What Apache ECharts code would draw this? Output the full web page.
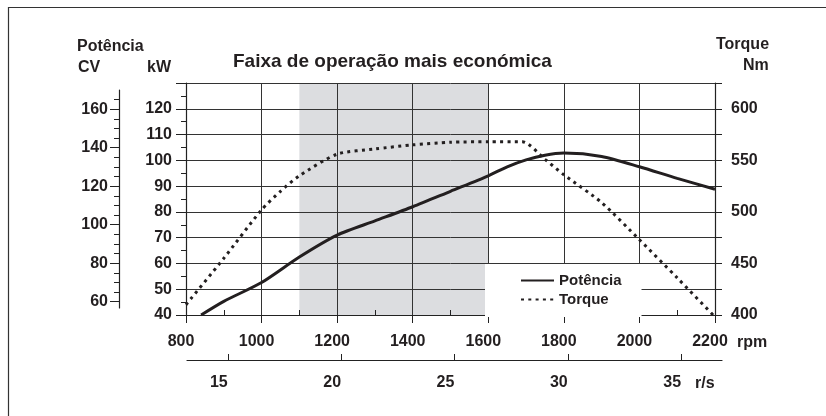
<!DOCTYPE html>
<html><head><meta charset="utf-8">
<script src="https://cdn.jsdelivr.net/npm/echarts@6/dist/echarts.min.js"></script>
<style>html,body{margin:0;padding:0;background:#fff}#c{width:826px;height:416px}</style>
</head><body><div id="c"></div>
<script>
// ---- data ----
const powerRpm = [840, 900, 1000, 1100, 1200, 1300, 1400, 1500, 1600, 1650, 1700, 1750, 1800, 1900, 2000, 2100, 2200];
const powerKW  = [40, 45.3, 52.6, 62.5, 71, 76.5, 82, 88, 94, 97.5, 100.2, 102, 102.8, 101.5, 97.5, 93, 88.8];
const torqueRpm = [800, 900, 1000, 1050, 1100, 1200, 1300, 1400, 1500, 1600, 1690, 1750, 1800, 1900, 2000, 2100, 2195];
const torqueNm  = [410, 455, 502, 520, 535, 556, 561, 565, 567.5, 568, 568, 551, 536, 509, 473, 436, 400];
const economyBand = [1100, 1600];
const rpsTicks = [15, 20, 25, 30, 35];
const rpmMinorTicks = [900, 1100, 1300, 1500, 1700, 1900, 2100];
const cvTicks = [60, 80, 100, 120, 140, 160];
const cvMinorTicks = [60, 65, 70, 75, 80, 85, 90, 95, 100, 105, 110, 115, 120, 125, 130, 135, 140, 145, 150, 155, 160, 165];
const nmLabelTicks = [400, 450, 500, 550, 600];
const seriesNames = ['Potência', 'Torque'];

const INK = '#231f20';
const FONT = "'Liberation Sans', Arial, sans-serif";
const lbl = (extra) => Object.assign({color: INK, fontFamily: FONT, fontWeight: 'bold', fontSize: 16}, extra || {});

const chart = echarts.init(document.getElementById('c'), null, {renderer: 'canvas'});
const zip = (a, b) => a.map((v, i) => [v, b[i]]);

const option = {
  animation: false,
  backgroundColor: '#fff',
  title: [
    {text: 'Faixa de operação mais económica', left: 233, top: 52, padding: 0, textStyle: lbl({fontSize: 19})},
    {text: 'Potência', left: 77, top: 39, padding: 0, textStyle: lbl()},
    {text: 'CV', left: 78, top: 60, padding: 0, textStyle: lbl()},
    {text: 'kW', left: 147, top: 60, padding: 0, textStyle: lbl()},
    {text: 'Torque', left: 716, top: 37, padding: 0, textStyle: lbl()},
    {text: 'Nm', left: 743, top: 58, padding: 0, textStyle: lbl()},
    {text: 'rpm', left: 737, top: 335, padding: 0, textStyle: lbl()},
    {text: 'r/s', left: 695, top: 376, padding: 0, textStyle: lbl()}
  ],
  graphic: [
    {type: 'rect', shape: {x: 8.5, y: 7.5, width: 900, height: 500}, style: {fill: null, stroke: '#333', lineWidth: 1.2}, silent: true}
  ],
  legend: {
    data: seriesNames,
    orient: 'vertical',
    left: 485, top: 264,
    padding: [9, 20, 10, 35],
    backgroundColor: '#fff',
    itemWidth: 33, itemHeight: 14, itemGap: 4,
    itemStyle: {color: 'rgba(0,0,0,0)', borderWidth: 0, opacity: 0},
    textStyle: lbl({fontSize: 15})
  },
  grid: [
    {left: 186, top: 83, width: 529, height: 232},
    {left: 119, top: 90, width: 1, height: 218},
    {left: 187, top: 340, width: 535, height: 20}
  ],
  xAxis: [
    {
      type: 'value', gridIndex: 0, min: 800, max: 2200, interval: 200, position: 'bottom', offset: 0,
      axisLine: {show: true, lineStyle: {color: '#222', width: 1.2}},
      axisTick: {show: true, inside: false, length: 8, lineStyle: {color: '#222'}},
      axisLabel: Object.assign(lbl(), {margin: 19, padding: [0, 10, 0, 0], formatter: v => String(v)}),
      splitLine: {show: true, lineStyle: {color: '#333', width: 1}}
    },
    {
      type: 'value', gridIndex: 0, min: 800, max: 2200, position: 'bottom', offset: 0,
      axisLine: {show: false},
      axisTick: {show: true, inside: true, length: 5, customValues: rpmMinorTicks, lineStyle: {color: '#222'}},
      axisLabel: {show: false},
      splitLine: {show: false}
    },
    {type: 'value', gridIndex: 1, min: 0, max: 1, show: false},
    {
      type: 'value', gridIndex: 2, min: 13.2, max: 36.8, position: 'bottom',
      axisLine: {show: true, lineStyle: {color: '#222', width: 1.2}},
      axisTick: {show: true, inside: true, length: 6, customValues: rpsTicks, lineStyle: {color: '#222'}},
      axisLabel: Object.assign(lbl(), {margin: 15, customValues: rpsTicks, padding: [0, 18, 0, 0], formatter: v => String(v)}),
      splitLine: {show: false}
    }
  ],
  yAxis: [
    {
      type: 'value', gridIndex: 0, min: 40, max: 130, interval: 10, position: 'left',
      axisLine: {show: true, lineStyle: {color: '#222', width: 1.2}},
      axisTick: {show: true, inside: false, length: 10, lineStyle: {color: '#222'}},
      minorTick: {show: true, splitNumber: 2, length: 5, lineStyle: {color: '#222'}},
      axisLabel: Object.assign(lbl(), {margin: 14, formatter: v => (v >= 130 ? '' : String(v))}),
      splitLine: {show: true, lineStyle: {color: '#333', width: 1}}
    },
    {
      type: 'value', gridIndex: 0, min: 400, max: 625, interval: 25, position: 'right',
      axisLine: {show: true, lineStyle: {color: '#222', width: 1.2}},
      axisTick: {show: true, inside: false, length: 7, lineStyle: {color: '#222'}},
      axisLabel: Object.assign(lbl(), {margin: 16, formatter: v => (nmLabelTicks.indexOf(v) >= 0 ? String(v) : '')}),
      splitLine: {show: false}
    },
    {
      type: 'value', gridIndex: 1, min: 56.7, max: 170, position: 'left',
      axisLine: {show: true, lineStyle: {color: '#222', width: 1.2}},
      axisTick: {show: true, inside: false, length: 9, customValues: cvTicks, lineStyle: {color: '#222'}},
      axisLabel: Object.assign(lbl(), {margin: 11, customValues: cvTicks, formatter: v => String(v)}),
      splitLine: {show: false}
    },
    {
      type: 'value', gridIndex: 1, min: 56.7, max: 170, position: 'left',
      axisLine: {show: false},
      axisTick: {show: true, inside: false, length: 5, customValues: cvMinorTicks, lineStyle: {color: '#222'}},
      axisLabel: {show: false},
      splitLine: {show: false}
    },
    {type: 'value', gridIndex: 2, min: 0, max: 1, show: false}
  ],
  series: [
    {
      name: 'band', type: 'line', xAxisIndex: 0, yAxisIndex: 0, data: [], silent: true, z: -1,
      markArea: {
        silent: true, z: -1,
        itemStyle: {color: '#dcdde0'},
        data: [[{xAxis: economyBand[0]}, {xAxis: economyBand[1]}]]
      }
    },
    {
      name: seriesNames[0], type: 'line', xAxisIndex: 0, yAxisIndex: 0,
      data: zip(powerRpm, powerKW), symbol: 'none', smooth: 0.25,
      lineStyle: {color: INK, width: 3}, itemStyle: {color: INK}, z: 3
    },
    {
      name: seriesNames[1], type: 'line', xAxisIndex: 0, yAxisIndex: 1,
      data: zip(torqueRpm, torqueNm), symbol: 'none', smooth: 0.25,
      lineStyle: {color: INK, width: 3, type: [3, 4.3]}, itemStyle: {color: INK}, z: 3
    }
  ]
};
chart.setOption(option);
</script>
</body></html>
